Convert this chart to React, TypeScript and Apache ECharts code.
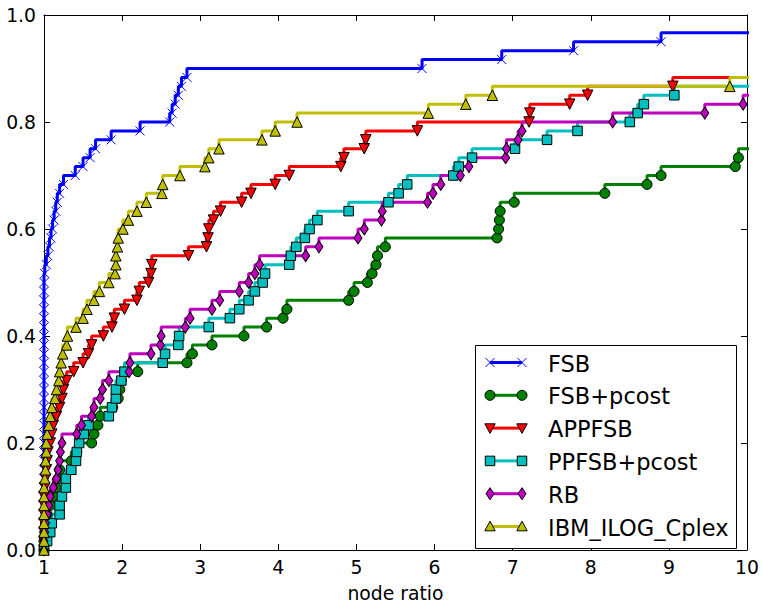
import React, { useEffect, useRef } from "react";
import * as echarts from "echarts";

// Performance profile: each series lists the sorted node ratios of its 60 problems
// (only the part visible up to 10 matters; a trailing value > 10 is clipped).
const NUM_PROBLEMS = 60;

const seriesNames = ["FSB", "FSB+pcost", "APPFSB", "PPFSB+pcost", "RB", "IBM_ILOG_Cplex"];

const xTicks = [1, 2, 3, 4, 5, 6, 7, 8, 9, 10];
const yTickLabels = ["0.0", "0.2", "0.4", "0.6", "0.8", "1.0"];
const xAxisTitle = "node ratio";

const fsbRatios = [
  1.0, 1.0, 1.0, 1.0, 1.0, 1.0, 1.0, 1.0, 1.0, 1.0,
  1.0, 1.0, 1.0, 1.0, 1.0, 1.0, 1.0, 1.0, 1.0, 1.0,
  1.0, 1.0, 1.0, 1.0, 1.0, 1.0, 1.0, 1.0, 1.0, 1.0,
  1.0, 1.01, 1.03, 1.05, 1.07, 1.09, 1.11, 1.13, 1.15, 1.17,
  1.2, 1.25, 1.4, 1.5, 1.59, 1.66, 1.86, 2.23, 2.61, 2.64,
  2.68, 2.72, 2.76, 2.83, 5.84, 6.86, 7.78, 8.9, 10.5,
];

const fsbPcostRatios = [
  1.0, 1.0, 1.01, 1.02, 1.04, 1.08, 1.12, 1.15, 1.18, 1.2,
  1.35, 1.42, 1.61, 1.64, 1.69, 1.72, 1.88, 1.95, 1.97, 1.99,
  2.2, 2.83, 2.9, 3.15, 3.56, 3.85, 4.06, 4.11, 4.9, 4.97,
  5.14, 5.2, 5.25, 5.27, 5.37, 6.8, 6.82, 6.83, 6.84, 7.02,
  8.18, 8.72, 8.9, 9.85, 9.89, 10.5,
];

const appfsbRatios = [
  1.0, 1.0, 1.0, 1.0, 1.0, 1.0, 1.0, 1.01, 1.02, 1.03,
  1.04, 1.05, 1.08, 1.1, 1.12, 1.16, 1.2, 1.23, 1.25, 1.29,
  1.38, 1.5, 1.57, 1.61, 1.76, 1.87, 1.9, 2.03, 2.19, 2.22,
  2.34, 2.37, 2.38, 2.85, 3.08, 3.1, 3.11, 3.17, 3.26, 3.53,
  3.65, 3.96, 4.14, 4.8, 4.84, 5.1, 5.12, 5.78, 7.21, 7.22,
  7.73, 7.96, 9.05, 10.5,
];

const ppfsbPcostRatios = [
  1.0, 1.04, 1.08, 1.1, 1.2, 1.2, 1.23, 1.28, 1.28, 1.35,
  1.41, 1.42, 1.45, 1.51, 1.57, 1.83, 1.87, 1.92, 1.92, 1.99,
  2.03, 2.52, 2.55, 2.72, 2.73, 3.11, 3.38, 3.5, 3.62, 3.7,
  3.8, 3.83, 4.14, 4.16, 4.23, 4.34, 4.4, 4.5, 4.9, 5.41,
  5.54, 5.65, 6.24, 6.31, 6.48, 7.03, 7.44, 7.83, 8.5, 8.6,
  8.68, 9.07, 10.5,
];

const rbRatios = [
  1.0, 1.0, 1.01, 1.02, 1.04, 1.06, 1.08, 1.12, 1.16, 1.18,
  1.2, 1.21, 1.23, 1.42, 1.48, 1.61, 1.64, 1.72, 1.75, 1.83,
  2.09, 2.1, 2.37, 2.49, 2.5, 2.81, 2.87, 3.15, 3.25, 3.5,
  3.62, 3.7, 3.76, 4.35, 4.52, 5.02, 5.1, 5.32, 5.33, 5.91,
  5.98, 6.08, 6.33, 6.44, 6.91, 6.92, 7.07, 7.12, 8.28, 9.46,
  9.95, 10.5,
];

const cplexRatios = [
  1.0, 1.0, 1.0, 1.0, 1.0, 1.0, 1.0, 1.0, 1.01, 1.02,
  1.02, 1.03, 1.03, 1.04, 1.06, 1.08, 1.1, 1.14, 1.16, 1.19,
  1.2, 1.22, 1.24, 1.29, 1.3, 1.41, 1.5, 1.55, 1.64, 1.71,
  1.83, 1.91, 1.92, 1.92, 1.94, 1.95, 2.01, 2.08, 2.19, 2.31,
  2.51, 2.52, 2.74, 3.06, 3.11, 3.24, 3.79, 3.96, 4.24, 5.92,
  6.4, 6.74, 9.78, 10.5,
];

const allRatios = [fsbRatios, fsbPcostRatios, appfsbRatios, ppfsbPcostRatios, rbRatios, cplexRatios];

// styles (not data)
const styles = [
  { color: "#0000ff", marker: "x" },
  { color: "#008000", marker: "circle" },
  { color: "#ff0000", marker: "tridown" },
  { color: "#00bfbf", marker: "square" },
  { color: "#bf00bf", marker: "diamond" },
  { color: "#bfbf00", marker: "triup" },
];

const FONT = "DejaVu Sans";
const TICK_FONT = 18.8;
const LEGEND_FONT = 22.5;
const LINE_W = 3;

function symbolFor(marker: string, color: string) {
  const edge = { borderColor: "#000", borderWidth: 1, color };
  switch (marker) {
    case "x":
      return { symbol: "path://M0 0L10 10M10 0L0 10", symbolSize: 9, itemStyle: { color, borderColor: color, borderWidth: 1 } };
    case "circle":
      return { symbol: "circle", symbolSize: 10, itemStyle: edge };
    case "tridown":
      return { symbol: "triangle", symbolSize: 10.5, symbolRotate: 180, itemStyle: edge };
    case "square":
      return { symbol: "rect", symbolSize: 9.5, itemStyle: edge };
    case "diamond":
      return { symbol: "diamond", symbolSize: [8, 12], itemStyle: edge };
    default:
      return { symbol: "triangle", symbolSize: 10.5, itemStyle: edge };
  }
}

function legendMarker(marker: string, cx: number, cy: number, color: string): any[] {
  const st = { fill: color, stroke: "#000", lineWidth: 1 };
  const z = 102;
  switch (marker) {
    case "x":
      return [
        { type: "line", z, shape: { x1: cx - 4.5, y1: cy - 4.5, x2: cx + 4.5, y2: cy + 4.5 }, style: { stroke: color, lineWidth: 1 } },
        { type: "line", z, shape: { x1: cx - 4.5, y1: cy + 4.5, x2: cx + 4.5, y2: cy - 4.5 }, style: { stroke: color, lineWidth: 1 } },
      ];
    case "circle":
      return [{ type: "circle", z, shape: { cx, cy, r: 5 }, style: st }];
    case "square":
      return [{ type: "rect", z, shape: { x: cx - 4.75, y: cy - 4.75, width: 9.5, height: 9.5 }, style: st }];
    case "tridown":
      return [{ type: "polygon", z, shape: { points: [[cx - 5.2, cy - 4.3], [cx + 5.2, cy - 4.3], [cx, cy + 5.3]] }, style: st }];
    case "triup":
      return [{ type: "polygon", z, shape: { points: [[cx - 5.2, cy + 4.3], [cx + 5.2, cy + 4.3], [cx, cy - 5.3]] }, style: st }];
    default:
      return [{ type: "polygon", z, shape: { points: [[cx, cy - 6], [cx + 4, cy], [cx, cy + 6], [cx - 4, cy]] }, style: st }];
  }
}

function buildLegend(): any[] {
  const box = { left: 475, top: 345, width: 261, height: 203 };
  const rowTop = 362.5;
  const rowGap = 32.8;
  const x1 = 490;
  const x2 = 522;
  const textX = 548;
  const els: any[] = [
    {
      type: "rect",
      z: 100,
      shape: { x: box.left + 0.5, y: box.top + 0.5, width: box.width, height: box.height },
      style: { fill: "#fff", stroke: "#000", lineWidth: 1 },
    },
  ];
  seriesNames.forEach((name, i) => {
    const cy = rowTop + i * rowGap;
    const { color, marker } = styles[i];
    els.push({ type: "line", z: 101, shape: { x1, y1: cy, x2, y2: cy }, style: { stroke: color, lineWidth: LINE_W } });
    els.push(...legendMarker(marker, x1, cy, color));
    els.push(...legendMarker(marker, x2, cy, color));
    els.push({
      type: "text",
      z: 102,
      x: textX,
      y: cy + 1,
      style: { text: name, fill: "#000", font: `${LEGEND_FONT}px "${FONT}"`, verticalAlign: "middle", align: "left" },
    });
  });
  return els;
}

export default function App() {
  const ref = useRef<HTMLDivElement>(null);
  useEffect(() => {
    if (!ref.current) return;
    const chart = echarts.init(ref.current, null, { renderer: "svg" });
    const axisCommon = {
      type: "value" as const,
      axisLine: { show: true, onZero: false, lineStyle: { color: "#000", width: 1 } },
      axisTick: { show: true, inside: true, length: 6, lineStyle: { color: "#000", width: 1 } },
      splitLine: { show: false },
    };
    const series = allRatios.map((ratios, i) => {
      const st = styles[i];
      return {
        name: seriesNames[i],
        type: "line",
        step: "start",
        xAxisIndex: 0,
        yAxisIndex: 0,
        data: ratios.map((r, k) => [r, k / NUM_PROBLEMS]),
        showAllSymbol: true,
        clip: true,
        silent: true,
        lineStyle: { color: st.color, width: LINE_W },
        emphasis: { disabled: true },
        ...symbolFor(st.marker, st.color),
      };
    });
    chart.setOption({
      animation: false,
      backgroundColor: "#fff",
      grid: { left: 44, top: 15, right: 16, bottom: 49, containLabel: false },
      xAxis: [
        {
          ...axisCommon,
          position: "bottom",
          min: xTicks[0],
          max: xTicks[xTicks.length - 1],
          interval: 1,
          name: xAxisTitle,
          nameLocation: "middle",
          nameGap: 34,
          nameTextStyle: { fontFamily: FONT, fontSize: TICK_FONT, color: "#000" },
          axisLabel: { show: true, margin: 8, fontFamily: FONT, fontSize: TICK_FONT, color: "#000", formatter: (v: number) => String(v) },
        },
        {
          ...axisCommon,
          position: "top",
          min: xTicks[0],
          max: xTicks[xTicks.length - 1],
          interval: 1,
          axisLabel: { show: false },
        },
      ],
      yAxis: [
        {
          ...axisCommon,
          position: "left",
          min: 0,
          max: 1,
          interval: 0.2,
          axisLabel: {
            show: true,
            margin: 8,
            fontFamily: FONT,
            fontSize: TICK_FONT,
            color: "#000",
            formatter: (v: number) => yTickLabels[Math.round(v / 0.2)] ?? v.toFixed(1),
          },
        },
        {
          ...axisCommon,
          position: "right",
          min: 0,
          max: 1,
          interval: 0.2,
          axisLabel: { show: false },
        },
      ],
      series,
      graphic: buildLegend(),
    });
    return () => chart.dispose();
  }, []);
  return (
    <div
      ref={ref}
      style={{ position: "fixed", left: 0, top: 0, width: 763, height: 608, background: "#fff" }}
    />
  );
}
